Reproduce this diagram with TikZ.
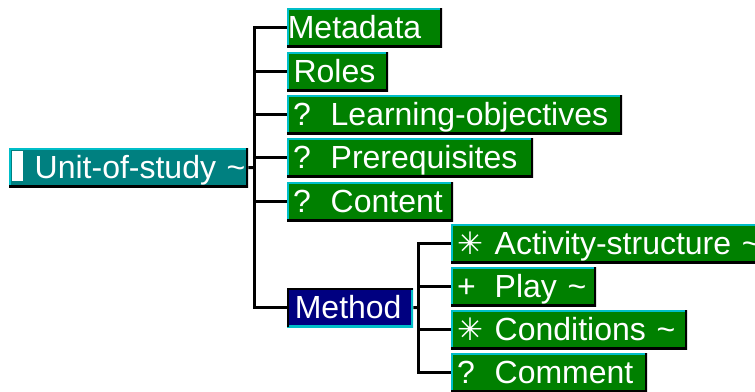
\documentclass[tikz,border=0pt]{standalone}
\usepackage{fontspec}
\setmainfont{Liberation Sans}
\newfontfamily\symfont{DejaVu Sans}
\definecolor{boxgreen}{RGB}{0,128,0}
\definecolor{boxteal}{RGB}{0,128,128}
\definecolor{boxnavy}{RGB}{0,0,128}
\definecolor{bevel}{RGB}{0,190,200}
\newcommand\symb[1]{\makebox[37.5pt][l]{#1}}
\newcommand\starsym{\raisebox{0pt}{\fontsize{31}{31}\symfont ✳}}
\begin{document}
\begin{tikzpicture}[x=1pt,y=-1pt,
  lbl/.style={anchor=north west, inner sep=0pt, text=white,
    font=\fontsize{32}{38}\selectfont, text height=30pt, text depth=9pt,
    minimum height=39pt, align=left},
  raised/.style={path picture={
    \draw[bevel,line width=4pt] (path picture bounding box.south west) -- (path picture bounding box.north west) -- (path picture bounding box.north east);
    \draw[black,line width=5pt] (path picture bounding box.north east) -- (path picture bounding box.south east) -- (path picture bounding box.south west);}},
  sunken/.style={path picture={
    \draw[bevel,line width=5pt] (path picture bounding box.north east) -- (path picture bounding box.south east) -- (path picture bounding box.south west);
    \draw[black,line width=4pt] (path picture bounding box.south west) -- (path picture bounding box.north west) -- (path picture bounding box.north east);}},
  gbox/.style={lbl, raised, fill=boxgreen},
  conn/.style={draw=black, line width=3pt}]
\useasboundingbox (0,0) rectangle (755,391);

\node[lbl, raised, fill=boxteal, text width=239pt] (U) at (9,148)
  {\hspace*{3pt}\textcolor{white}{\rule[-3pt]{11pt}{30pt}}\hspace{11.5pt}Unit-of-study \textasciitilde};

\node[gbox, text width=155pt] (meta) at (287,8) {\hspace*{0.6pt}Metadata};
\node[gbox, text width=101pt] (roles) at (287,52) {\hspace*{6.4pt}Roles};
\node[gbox, text width=335pt] (learn) at (287,95) {\hspace*{6pt}\symb{?}Learning-objectives};
\node[gbox, text width=246pt] (prereq) at (287,138) {\hspace*{6pt}\symb{?}Prerequisites};
\node[gbox, text width=166pt] (content) at (287,182) {\hspace*{6pt}\symb{?}Content};
\node[lbl, sunken, fill=boxnavy, text width=126pt] (method) at (287,288) {\hspace*{7.6pt}Method};

\node[gbox, text width=310pt] (act) at (451,224) {\hspace*{6pt}\symb{\starsym}Activity-structure \textasciitilde};
\node[gbox, text width=145pt] (play) at (451,267) {\hspace*{6pt}\symb{+}Play \textasciitilde};
\node[gbox, text width=236pt] (cond) at (451,310) {\hspace*{6pt}\symb{\starsym}Conditions \textasciitilde};
\node[gbox, text width=196pt] (comment) at (451,353) {\hspace*{6pt}\symb{?}Comment};

\coordinate (t1) at (254.5,167.5);
\coordinate (t2) at (418,307.5);
\draw[conn] (U.east) -- (t1);
\foreach \n in {meta,roles,learn,prereq,content,method} \draw[conn] (t1) |- (\n.west);
\draw[conn] (method.east) -- (t2);
\foreach \n in {act,play,cond,comment} \draw[conn] (t2) |- (\n.west);
\end{tikzpicture}
\end{document}
